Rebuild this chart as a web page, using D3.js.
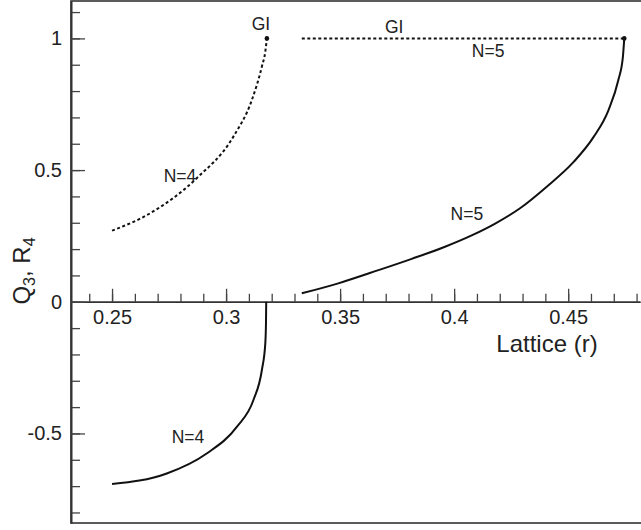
<!DOCTYPE html>
<html>
<head>
<meta charset="utf-8">
<script src="https://cdn.jsdelivr.net/npm/d3@7"></script>
<style>
  body { margin: 0; padding: 0; background: #fff; }
  svg { display: block; font-family: "Liberation Sans", Arial, sans-serif; }
</style>
</head>
<body>
<div id="chart"></div>
<script>
// curves, [r, value]
var n4Dotted = [[0.25, 0.27], [0.2667, 0.336], [0.2871, 0.469], [0.3032, 0.627],
                [0.3113, 0.766], [0.3157, 0.893], [0.3172, 0.95], [0.3179, 1]];
var n4Solid  = [[0.25, -0.692], [0.274, -0.652], [0.2915, -0.576], [0.3047, -0.475],
                [0.312, -0.373], [0.3157, -0.259], [0.3172, -0.158], [0.3175, -0.08], [0.3176, 0]];
var n5Dotted = [[0.3332, 1], [0.4746, 1]];
var n5Solid  = [[0.3332, 0.032], [0.3492, 0.07], [0.3668, 0.12], [0.3814, 0.163],
                [0.396, 0.209], [0.4077, 0.252], [0.418, 0.297], [0.4289, 0.355],
                [0.4406, 0.437], [0.4523, 0.53], [0.4611, 0.625], [0.4677, 0.728],
                [0.472, 0.842], [0.474, 0.93], [0.4746, 1]];
var giPoints = [[0.3179, 1], [0.4746, 1]];

var xMajor = [0.25, 0.3, 0.35, 0.4, 0.45];
var xMinor = d3.range(24, 49).map(function(d) { return d / 100; });
var yMajor = [-0.5, 0, 0.5, 1];
var yMinor = d3.range(-8, 12).map(function(d) { return d / 10; });

var labels = [
  { text: "GI",  r: 0.3153, v: 1.031 },
  { text: "GI",  r: 0.3737, v: 1.020 },
  { text: "N=5", r: 0.4149, v: 0.929 },
  { text: "N=4", r: 0.2798, v: 0.455 },
  { text: "N=5", r: 0.4056, v: 0.310 },
  { text: "N=4", r: 0.2833, v: -0.536 }
];

var W = 641, H = 530;
var x = d3.scaleLinear().domain([0.232, 0.4815]).range([71, 640]);
var y = d3.scaleLinear().domain([-0.84, 1.142]).range([523, 1]);

var svg = d3.select("#chart").append("svg").attr("width", W).attr("height", H);

// frame
svg.append("rect")
  .attr("x", x.range()[0]).attr("y", y.range()[1])
  .attr("width", 641 - x.range()[0] + 2).attr("height", y.range()[0] - y.range()[1])
  .attr("fill", "none").attr("stroke", "#333").attr("stroke-width", 1.6);

// x axis at zero, ticks pointing up
var gx = svg.append("g").attr("transform", "translate(0," + y(0) + ")");
gx.call(d3.axisBottom(x).tickValues(xMinor).tickSize(-8).tickSizeOuter(0).tickFormat(""));
gx.append("g").call(d3.axisBottom(x).tickValues(xMajor).tickSize(-13).tickSizeOuter(0)
  .tickPadding(8).tickFormat(function(d) { return String(d); }));

var gy = svg.append("g").attr("transform", "translate(" + x.range()[0] + ",0)");
gy.call(d3.axisLeft(y).tickValues(yMinor).tickSize(-9).tickSizeOuter(0).tickFormat(""));
gy.append("g").call(d3.axisLeft(y).tickValues(yMajor).tickSize(-14).tickSizeOuter(0)
  .tickPadding(9).tickFormat(function(d) { return String(d); }));

svg.selectAll(".domain").attr("stroke", "#333").attr("stroke-width", 1.6);
svg.selectAll(".tick line").attr("stroke", "#444").attr("stroke-width", 1.3);
svg.selectAll(".tick text").attr("font-size", 20).attr("fill", "#222")
  .attr("font-family", "'Liberation Sans', Arial, sans-serif");

// curves
var line = d3.line()
  .x(function(d) { return x(d[0]); })
  .y(function(d) { return y(d[1]); })
  .curve(d3.curveMonotoneX);

[[n4Dotted, true], [n5Dotted, true], [n4Solid, false], [n5Solid, false]].forEach(function(c) {
  svg.append("path")
    .attr("d", line(c[0]))
    .attr("fill", "none")
    .attr("stroke", "#111")
    .attr("stroke-width", 2)
    .attr("stroke-dasharray", c[1] ? "3,2.5" : null);
});

svg.selectAll("circle.gi").data(giPoints).enter().append("circle")
  .attr("class", "gi")
  .attr("cx", function(d) { return x(d[0]); })
  .attr("cy", function(d) { return y(d[1]); })
  .attr("r", 2.3).attr("fill", "#111");

svg.selectAll("text.lab").data(labels).enter().append("text")
  .attr("class", "lab")
  .attr("x", function(d) { return x(d.r); })
  .attr("y", function(d) { return y(d.v); })
  .attr("text-anchor", "middle")
  .attr("font-size", 17.5).attr("fill", "#222")
  .text(function(d) { return d.text; });

// axis titles
svg.append("text")
  .attr("x", 547).attr("y", 352)
  .attr("text-anchor", "middle").attr("font-size", 24).attr("fill", "#222")
  .text("Lattice (r)");

var yt = svg.append("text")
  .attr("transform", "translate(30,271) rotate(-90)")
  .attr("text-anchor", "middle").attr("font-size", 24).attr("fill", "#222");
yt.append("tspan").text("Q");
yt.append("tspan").attr("font-size", 16).attr("dy", 5).text("3");
yt.append("tspan").attr("dy", -5).text(", R");
yt.append("tspan").attr("font-size", 16).attr("dy", 5).text("4");
</script>
</body>
</html>
